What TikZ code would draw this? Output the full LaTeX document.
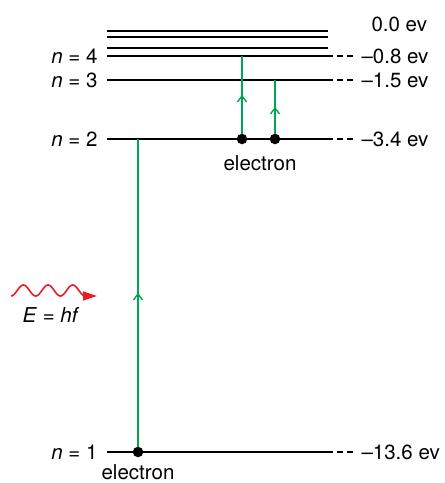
\documentclass[tikz,border=0pt]{standalone}
\usepackage{fontspec}
\setmainfont{TeX Gyre Heros}
\usetikzlibrary{arrows.meta, decorations.markings, positioning}
\definecolor{mygreen}{RGB}{0,166,81}
\definecolor{myred}{RGB}{237,28,36}

\begin{document}
\begin{tikzpicture}[x=1pt, y=-1pt, font=\fontsize{20.5}{24}\selectfont]
        \tikzset{
          level/.style={line width=1.8pt},
          tail/.style={line width=1.2pt, dash pattern=on 6pt off 4pt},
          elec/.style={circle, fill=black, inner sep=0pt, minimum size=10.5pt},
          trans/.style={mygreen, line width=1.8pt, postaction={decorate},
            decoration={markings, mark=at position 0.5 with
              {\arrow{Straight Barb[length=6pt, width=9pt, line width=1.4pt]}}}},
        }
        \useasboundingbox (0,0) rectangle (445,483);

        % エネルギー準位
        \foreach \name/\y in {L1/452, L2/139, L3/80, L4/56, L5/48, L6/37, L7/31} {
          \coordinate (\name a) at (107,\y);
          \coordinate (\name b) at (328,\y);
          \draw[level] (\name a) -- (\name b);
        }

        % 準位のラベル
        \node[anchor=east] (N1) at (101,452) {\textit{n} = 1};
        \node[anchor=east] (N2) at (101,139) {\textit{n} = 2};
        \node[anchor=east] (N3) at (101,80) {\textit{n} = 3};
        \node[anchor=east] (N4) at (101,56) {\textit{n} = 4};
        \node[anchor=west] (E1) at (358,452) {–13.6 ev};
        \node[anchor=west] (E2) at (358,139) {–3.4 ev};
        \node[anchor=west] (E3) at (358,80) {–1.5 ev};
        \node[anchor=west] (E4) at (358,56) {–0.8 ev};
        \node[anchor=west] (E7) at (368,24) {0.0 ev};
        \foreach \i in {1,2,3,4}
          \draw[tail] ([xshift=-1pt]L\i b) -- ([xshift=-4pt]E\i.west);

        % 電子と遷移
        \node[elec] (e1) at (138,452) {};
        \node[elec] (e2) at (242,139) {};
        \node[elec] (e3) at (275,139) {};
        \draw[trans] (e1) -- (e1 |- L2a);
        \draw[trans] (e2) -- (e2 |- L4a);
        \draw[trans] (e3) -- (e3 |- L3a);
        \node (el1) at (138,472) {electron};
        \node (el2) at (260,163) {electron};

        % 光子
        \coordinate (wtip) at (97,296);
        \draw[myred, line width=1.6pt, -{Triangle[length=14pt, width=9pt]}]
          plot[domain=0:3, samples=80, smooth] ({11+24.7*\x}, {290.5+5.5*cos(360*\x)}) -- (wtip);
        \node (EQ) at (51,315) {\textit{E} = \textit{hf}};
    \end{tikzpicture}
\end{document}
